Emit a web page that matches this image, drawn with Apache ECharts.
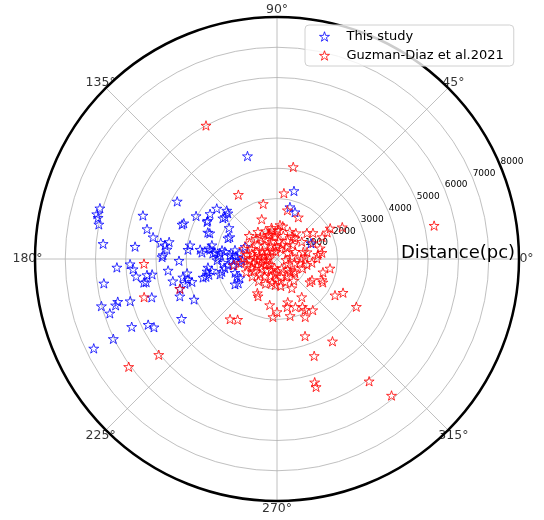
<!DOCTYPE html>
<html>
<head>
<meta charset="utf-8">
<script src="https://cdn.jsdelivr.net/npm/echarts@6/dist/echarts.min.js"></script>
<style>html,body{margin:0;padding:0;background:#fff}#c{width:544px;height:520px}</style>
</head>
<body>
<div id="c"></div>
<script>
// Galactic longitude (deg) and distance (pc)
const blueAngle = [164,166,167,169,175,162,167,170,175,150,152,160,159,172,173,171,175,178,179,171,174,173,181,183,182,184,187,187,187,190,190,186,192,191,189,193,195,195,188,194,195,198,196,195,196,197,201,206,212,205,207,209,206,206,106,197,140,146,151,152,136,137,143,141,159,159,147,157,155,171,175,174,168,172,175,168,171,159,172,174,171,175,175,181,184,187,190,181,188,186,182,178,177,187,190,194,193,193,195,203,207,212,190,198,211,76,76,69,25];
const blueDist  = [6090,6140,6070,6000,5770,4660,4410,4160,4710,3810,3030,3340,3300,3880,3730,3610,3650,3770,3800,2910,2960,2560,3240,5300,4860,4770,4690,4330,4160,4390,4470,3620,3520,3170,3010,3020,2910,3150,5780,2520,6010,5810,5550,5450,5050,4330,3440,3050,3720,5300,4780,4650,6020,6740,3540,3350,2600,2670,2620,2620,2310,2220,2240,2210,2450,2380,1890,1760,1720,2280,2130,1900,2200,1740,1560,1420,1240,1130,2240,2060,1840,2490,1460,1980,1790,1630,1750,1490,1470,1260,1160,1950,1360,2300,2190,2420,2310,1870,1950,1440,1380,1510,2350,1460,1620,2320,1770,1660,1240];

const redAngle = [118,80,121,104,111,12,84,78,63,85,100,111,94,26,36,41,28,30,26,49,24,14,6,8,1,13,4,350,349,354,350,344,335,329,315,322,297,328,333,329,284,282,291,298,299,305,296,283,261,266,240,243,266,232,237,290,304,291,287,287,307,310,325,333,219,216,182,196,197,188,303,270,54,
  60,65,70,75,80,85,88,92,95,100,105,108,112,115,120,125,128,118,98,72,
  132,135,140,142,145,150,152,155,158,160,163,165,168,170,172,174,176,178,180,182,184,186,188,190,192,195,198,200,203,205,208,212,215,218,222,226,230,
  235,240,245,250,255,258,262,268,272,278,283,290,296,300,308,315,
  325,335,340,348,355,0,8,15,22,30,35,42,50,55];
const redDist = [5000,3090,2480,1880,1410,5310,2190,1650,1550,1130,970,850,860,2400,1470,1310,1880,2030,1660,910,1300,1470,1360,1500,1320,1020,930,770,1010,1160,1780,1580,1640,1350,610,750,1080,2260,2450,3060,1470,1620,1700,1790,1920,2060,2130,1930,1540,1920,1300,1380,860,2520,2390,2710,3280,3430,4260,4420,5060,5890,1330,1700,5030,6060,4400,4570,3360,1440,1500,1750,1060,
  700,1000,500,800,1100,600,950,400,750,1050,600,850,1000,500,750,1100,900,300,250,350,
  600,950,1200,400,800,1050,550,300,900,700,1150,450,850,600,1000,250,750,1100,500,900,650,1200,350,800,1000,550,900,700,1100,400,850,600,1000,300,750,500,950,
  700,400,900,600,300,800,500,700,400,900,600,800,350,650,900,500,
  700,400,900,600,300,800,500,900,650,400,1000,700,500,900];

const seriesNames = ['This study', 'Guzman-Diaz et al.2021'];
const seriesColors = ['#0000ff', '#ff0000'];
const angleTicks = [0,45,90,135,180,225,270,315];
const radiusTicks = [1000,2000,3000,4000,5000,6000,7000,8000];
const RMAX = 8000;

function starPath(){
  const pts=[];
  for(let i=0;i<10;i++){
    const r = i%2===0 ? 1 : 0.381966;
    const a = Math.PI/2 + i*Math.PI/5;
    pts.push((r*Math.cos(a)).toFixed(4)+','+(-r*Math.sin(a)).toFixed(4));
  }
  return 'path://M'+pts.join('L')+'Z';
}
const STAR = starPath();
const pair = (A,D)=>A.map((a,i)=>[D[i],a]);

const FONT = 'DejaVu Sans';
const chart = echarts.init(document.getElementById('c'), null, {renderer:'canvas'});
const center = [277,259], R = 242;
// angle tick labels sit just outside the outer circle (centered, like matplotlib)
const labelR = RMAX * (R + 7.5) / R;
chart.setOption({
  animation:false,
  textStyle:{fontFamily:FONT},
  title:{text:'Distance(pc)', left:396, top:239, textStyle:{fontFamily:FONT,fontSize:18,fontWeight:'normal',color:'#000'}},
  legend:{
    data:seriesNames.map((n,i)=>({name:n, icon:STAR,
      itemStyle:{color:'rgba(0,0,0,0)', borderColor:seriesColors[i], borderWidth:1}})),
    orient:'vertical', left:305, top:25,
    padding:[5,10,4,14], itemGap:6, itemWidth:10, itemHeight:10,
    backgroundColor:'rgba(255,255,255,0.8)', borderColor:'#d0d0d0', borderWidth:1, borderRadius:4,
    textStyle:{fontFamily:FONT,fontSize:13,color:'#000',padding:[0,0,0,12]}
  },
  polar:[{center:center, radius:R},{center:center, radius:R}],
  angleAxis:[{
    polarIndex:0, type:'value', min:0, max:360, interval:45, startAngle:0, clockwise:false,
    axisLine:{show:true, lineStyle:{color:'#000', width:2.5}},
    axisTick:{show:false},
    axisLabel:{show:false},
    splitLine:{show:true, lineStyle:{color:'#b0b0b0', width:0.8}}
  },{
    polarIndex:1, type:'value', min:0, max:360, startAngle:22.5, clockwise:false, show:false
  }],
  radiusAxis:[{
    polarIndex:0, type:'value', min:0, max:RMAX, interval:1000,
    axisLine:{show:false}, axisTick:{show:false}, axisLabel:{show:false},
    splitLine:{show:true, lineStyle:{color:'#b0b0b0', width:0.8}}
  },{
    polarIndex:1, type:'value', min:0, max:RMAX, interval:1000,
    axisLine:{show:false}, axisTick:{show:false}, splitLine:{show:false},
    axisLabel:{show:true, margin:0, align:'left', verticalAlign:'bottom', fontFamily:FONT, fontSize:9, color:'#000', formatter:v=> radiusTicks.includes(v)? String(v) : ''}
  }],
  series:[{
    name:seriesNames[0], type:'scatter', coordinateSystem:'polar', polarIndex:0,
    symbol:STAR, symbolSize:10, symbolKeepAspect:true,
    itemStyle:{color:'rgba(0,0,0,0)', borderColor:seriesColors[0], borderWidth:1},
    data:pair(blueAngle, blueDist), z:3
  },{
    name:seriesNames[1], type:'scatter', coordinateSystem:'polar', polarIndex:0,
    symbol:STAR, symbolSize:10, symbolKeepAspect:true,
    itemStyle:{color:'rgba(0,0,0,0)', borderColor:seriesColors[1], borderWidth:1},
    data:pair(redAngle, redDist), z:4
  },{
    name:'angleLabels', type:'scatter', coordinateSystem:'polar', polarIndex:0,
    clip:false, silent:true, symbolSize:0, z:5,
    data:angleTicks.map(a=>[labelR, a]),
    label:{show:true, position:'inside', align:'center', verticalAlign:'middle',
      fontFamily:FONT, fontSize:12.5, color:'#000', textBorderWidth:0, formatter:p=>p.value[1]+'°'}
  }]
});
</script>
</body>
</html>
